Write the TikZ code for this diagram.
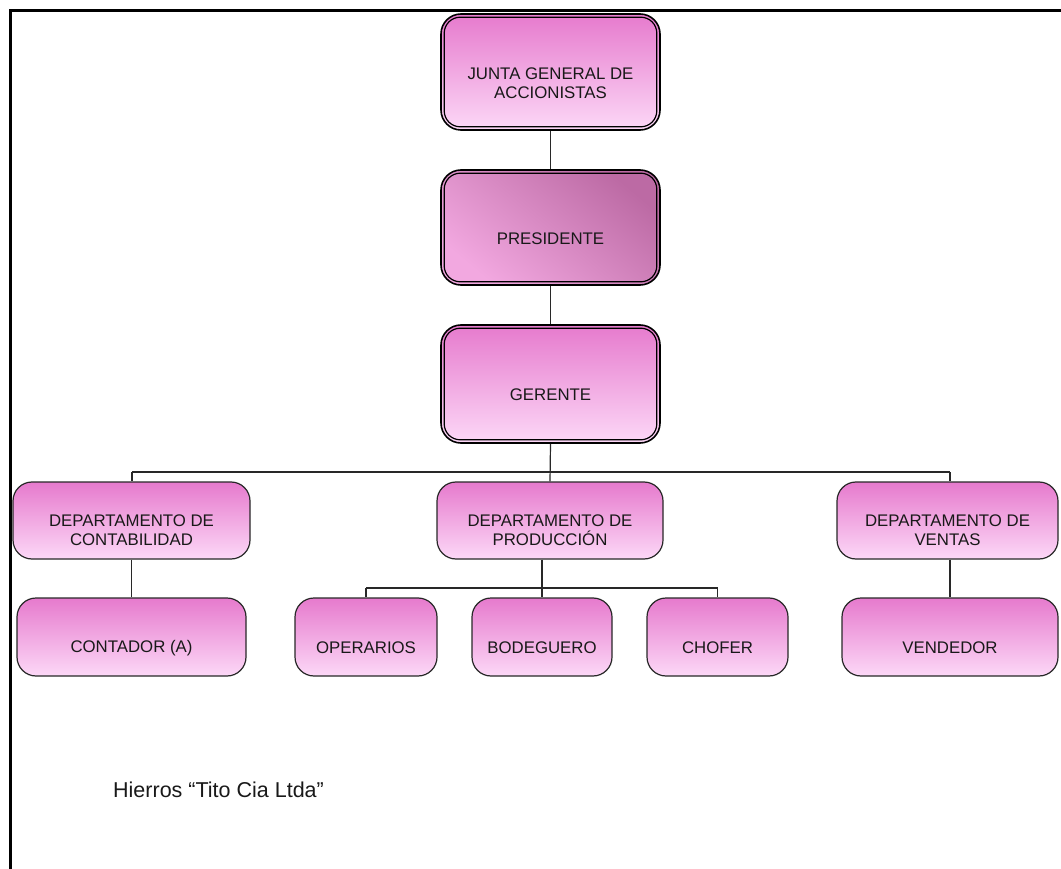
\documentclass[tikz,border=0pt]{standalone}
\usepackage{fontspec}
\setmainfont{Liberation Sans}
\definecolor{pktop}{RGB}{230,122,205}
\definecolor{pkbot}{RGB}{252,216,247}
\definecolor{prdark}{RGB}{188,106,164}
\definecolor{prlight}{RGB}{242,168,224}
\definecolor{edge}{RGB}{40,40,40}
\definecolor{ink}{RGB}{25,25,25}
\tikzset{
  box/.style={rounded corners=19pt, draw=edge, line width=1.2pt,
    top color=pktop, bottom color=pkbot, inner sep=0pt},
  bigbox/.style={rounded corners=20pt, draw=black, line width=1.6pt,
    top color=pktop, bottom color=pkbot, inner sep=0pt},
  inner/.style={rounded corners=16pt, draw=black, line width=1.2pt},
  lbl/.style={font=\fontsize{16.8}{19}\selectfont, text=ink, align=center, inner sep=0pt},
  conn/.style={draw=edge, line width=1.2pt},
}
\begin{document}
\begin{tikzpicture}[x=1pt,y=-1pt]
\useasboundingbox (0,0) rectangle (1061,869);
\fill[white] (0,0) rectangle (1061,869);
\draw[line width=3pt] (10,869) -- (10,10.5) -- (1061,10.5);

% top chain
\node[bigbox, minimum width=219pt, minimum height=116pt] (junta) at (550.5,72) {};
\node[bigbox, minimum width=219pt, minimum height=115pt, top color=prdark, bottom color=prlight, shading angle=-40] (pres) at (550.5,227.5) {};
\node[bigbox, minimum width=219pt, minimum height=118pt] (ger) at (550.5,384) {};
\foreach \n in {junta,pres,ger}{
  \draw[inner] ([xshift=4pt,yshift=-4pt]\n.north west) rectangle ([xshift=-4pt,yshift=4pt]\n.south east);
}
\node[lbl] (juntat) at ([yshift=-11pt]junta.center) {JUNTA GENERAL DE\\ACCIONISTAS};
\node[lbl] (prest) at ([yshift=-11pt]pres.center) {PRESIDENTE};
\node[lbl] (gert) at ([yshift=-11pt]ger.center) {GERENTE};

% departments
\node[box, minimum width=237pt, minimum height=77pt] (dcont) at (131.5,520.5) {};
\node[box, minimum width=226pt, minimum height=77pt] (dprod) at (550,520.5) {};
\node[box, minimum width=221pt, minimum height=77pt] (dvent) at (947.5,520.5) {};
\node[lbl] (dcontt) at ([yshift=-10pt]dcont.center) {DEPARTAMENTO DE\\CONTABILIDAD};
\node[lbl] (dprodt) at ([yshift=-10pt]dprod.center) {DEPARTAMENTO DE\\PRODUCCIÓN};
\node[lbl] (dventt) at ([yshift=-10pt]dvent.center) {DEPARTAMENTO DE\\VENTAS};

% staff
\node[box, minimum width=229pt, minimum height=78pt] (cont) at (131.5,637) {};
\node[box, minimum width=142pt, minimum height=78pt] (oper) at (366,637) {};
\node[box, minimum width=140pt, minimum height=78pt] (bode) at (542,637) {};
\node[box, minimum width=141pt, minimum height=78pt] (chof) at (717.5,637) {};
\node[box, minimum width=216pt, minimum height=78pt] (vend) at (950,637) {};
\node[lbl] (contt) at ([yshift=-11pt]cont.center) {CONTADOR (A)};
\node[lbl] (opert) at ([yshift=-11pt]oper.center) {OPERARIOS};
\node[lbl] (bodet) at ([yshift=-11pt]bode.center) {BODEGUERO};
\node[lbl] (choft) at ([yshift=-11pt]chof.center) {CHOFER};
\node[lbl] (vendt) at ([yshift=-11pt]vend.center) {VENDEDOR};

% connectors
\draw[conn] (junta.south) -- (pres.north);
\draw[conn] (pres.south) -- (ger.north);
\coordinate (hub) at (550,472);
\coordinate (hubl) at (132,472);
\coordinate (hubr) at (950,472);
\draw[conn] (ger.south) -- (dprod.north);
\draw[conn] (hubl) -- (hubr);
\draw[conn] (hubl) -- (hubl |- dcont.north);
\draw[conn] (hubr) -- (hubr |- dvent.north);
\draw[conn] (dcont.south) -- (cont.north);
\draw[conn] (dvent.south -| vend.north) -- (vend.north);
\coordinate (ph) at (542,588);
\draw[conn] (bode.north |- dprod.south) -- (bode.north);
\draw[conn] (oper.north |- ph) -- (chof.north |- ph);
\draw[conn] (oper.north |- ph) -- (oper.north);
\draw[conn] (chof.north |- ph) -- (chof.north);

% title
\node[anchor=base west, font=\fontsize{21.5}{24}\selectfont, text=ink, inner sep=0pt] (title) at (113,797) {Hierros “Tito Cia Ltda”};
\end{tikzpicture}
\end{document}
